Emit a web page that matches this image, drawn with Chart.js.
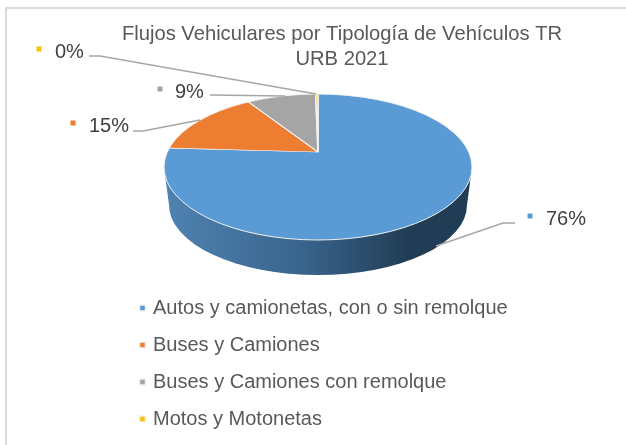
<!DOCTYPE html>
<html>
<head>
<meta charset="utf-8">
<script src="https://cdn.jsdelivr.net/npm/chart.js@4"></script>
<style>
  body { margin: 0; background: #fff; }
  canvas { display: block; }
</style>
</head>
<body>
<canvas id="chart" width="626" height="445"></canvas>
<script>
// Data
const categories = ['Autos y camionetas, con o sin remolque', 'Buses y Camiones', 'Buses y Camiones con remolque', 'Motos y Motonetas'];
const shares = [75.9, 14.9, 8.9, 0.3];
const sliceColors = ['#5B9BD5', '#ED7D31', '#A5A5A5', '#FFC000'];
const titleLines = ['Flujos Vehiculares por Tipología de Vehículos TR', 'URB 2021'];

const FONT = '"Liberation Sans", Arial, sans-serif';
const TEXT = '#595959';

// Look of the tilted pie: top face, side wall, and the off-centre apex
const topFace = { x: 318, y: 167, rx: 154, ry: 73 };
const bottomFace = { x: 318, y: 205, rx: 149, ry: 70 };
const apex = { x: 318, y: 152, squash: 0.47 };

// Data label placement, same order as categories
const labelSpots = [
  { marker: [530, 216], text: [546, 219], leader: [[515, 223], [503, 223], [436, 246]] },
  { marker: [73, 123], text: [89, 126], leader: [[133, 131], [143, 131], [200, 120]] },
  { marker: [160, 89], text: [175, 92], leader: [[210, 95], [285, 96]] },
  { marker: [39, 49], text: [55, 52], leader: [[89, 56], [100, 56], [316, 94]] }
];

function ellipsePath(ctx, e) {
  ctx.beginPath();
  ctx.ellipse(e.x, e.y, e.rx, e.ry, 0, 0, Math.PI * 2);
}

// Puts legend and title where the reference has them
const placeBoxes = {
  id: 'placeBoxes',
  afterLayout(chart) {
    const legend = chart.legend;
    legend.left = 125;
    legend.right = 600;
    legend.top = 281;
    legend.bottom = 520; // past the canvas edge, else the last row wraps into a new column
    const title = chart.titleBlock;
    title.left = 29;
    title.right = 655;
    title.top = 22;
    title.bottom = 72;
  }
};

const pie3d = {
  id: 'pie3d',
  beforeDraw(chart) {
    const ctx = chart.ctx;
    ctx.save();
    ctx.strokeStyle = '#D9D9D9';
    ctx.lineWidth = 2;
    ctx.beginPath();
    ctx.moveTo(626, 8);
    ctx.lineTo(6, 8);
    ctx.lineTo(6, 445);
    ctx.stroke();
    ctx.restore();
  },
  // Draws the wall, then the library's arcs squashed and clipped to the top face
  beforeDatasetsDraw(chart) {
    const ctx = chart.ctx;
    const arcs = chart.getDatasetMeta(0).data;

    const wall = ctx.createLinearGradient(164, 0, 472, 0);
    wall.addColorStop(0, '#4F83B2');
    wall.addColorStop(0.45, '#39648C');
    wall.addColorStop(0.8, '#213C55');
    wall.addColorStop(1, '#213C55');
    ctx.save();
    ctx.fillStyle = wall;
    ellipsePath(ctx, bottomFace);
    ctx.fill();
    ctx.beginPath();
    ctx.moveTo(topFace.x - topFace.rx, topFace.y);
    ctx.lineTo(bottomFace.x - bottomFace.rx, bottomFace.y);
    ctx.lineTo(bottomFace.x + bottomFace.rx, bottomFace.y);
    ctx.lineTo(topFace.x + topFace.rx, topFace.y);
    ctx.closePath();
    ctx.fill();
    ctx.restore();

    ctx.save();
    ellipsePath(ctx, topFace);
    ctx.clip();
    ctx.translate(apex.x, apex.y);
    ctx.scale(1, apex.squash);
    ctx.translate(-arcs[0].x, -arcs[0].y);
    arcs.forEach(arc => arc.draw(ctx));
    ctx.restore();

    ctx.save();
    ctx.strokeStyle = '#F2F2F2';
    ctx.lineWidth = 1;
    ellipsePath(ctx, topFace);
    ctx.stroke();
    ctx.restore();
    return false;
  },
  // Returning false above skips afterDatasetsDraw, so the labels go here
  afterDraw(chart) {
    const ctx = chart.ctx;
    ctx.save();
    shares.forEach((share, i) => {
      const spot = labelSpots[i];
      ctx.strokeStyle = '#A6A6A6';
      ctx.lineWidth = 1.5;
      ctx.beginPath();
      spot.leader.forEach((p, k) => k ? ctx.lineTo(p[0], p[1]) : ctx.moveTo(p[0], p[1]));
      ctx.stroke();

      ctx.fillStyle = sliceColors[i];
      ctx.fillRect(spot.marker[0] - 2.5, spot.marker[1] - 2.5, 5, 5);

      ctx.fillStyle = '#404040';
      ctx.font = '20px ' + FONT;
      ctx.textAlign = 'left';
      ctx.textBaseline = 'middle';
      ctx.fillText(share.toFixed(0) + '%', spot.text[0], spot.text[1]);
    });
    ctx.restore();
  }
};

new Chart(document.getElementById('chart'), {
  type: 'pie',
  data: {
    labels: categories,
    datasets: [{
      data: shares,
      backgroundColor: sliceColors,
      borderColor: '#F2F2F2',
      borderWidth: 1.5
    }]
  },
  options: {
    responsive: false,
    animation: false,
    radius: 200,
    plugins: {
      tooltip: { enabled: false },
      title: {
        display: true,
        text: titleLines,
        color: TEXT,
        padding: 0,
        font: { family: FONT, size: 20.2, weight: 'normal', lineHeight: 1.25 }
      },
      legend: {
        position: 'left',
        fullSize: false,
        align: 'start',
        labels: {
          usePointStyle: true,
          pointStyle: 'rect',
          boxWidth: 1,
          boxHeight: 6,
          padding: 17,
          color: TEXT,
          font: { family: FONT, size: 20 }
        }
      }
    }
  },
  plugins: [placeBoxes, pie3d]
});
</script>
</body>
</html>
